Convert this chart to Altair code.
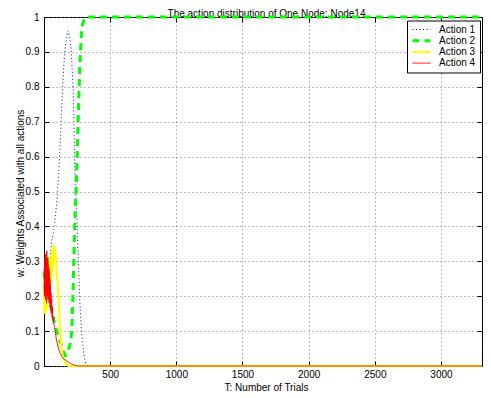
import altair as alt
import pandas as pd

FONT = "Liberation Sans"

chart_title = "The action distribution of One Node: Node14"
actions = ["Action 1", "Action 2", "Action 3", "Action 4"]
colors = ["#0000ff", "#00ff00", "#ffff00", "#ff0000"]
dashes = [[1, 2.5], [7, 5], [1, 0], [1, 0]]
widths = [1, 3, 2, 1]

x_ticks = [500, 1000, 1500, 2000, 2500, 3000]
y_ticks = [0, 0.1, 0.2, 0.3, 0.4, 0.5, 0.6, 0.7, 0.8, 0.9, 1]

# Action 1 (blue dotted)
a1_t = [1, 10, 18, 26, 34, 42, 50, 60, 70, 78, 86, 94, 102, 110, 118, 125, 130, 136,
        142, 148, 155, 163, 172, 180, 185, 195, 205, 213, 221, 226, 231, 238, 248,
        255, 262, 270, 280, 290, 300, 310, 320, 3310]
a1_w = [0.27, 0.23, 0.30, 0.25, 0.31, 0.28, 0.33, 0.36, 0.38, 0.40, 0.43, 0.46, 0.50,
        0.55, 0.60, 0.66, 0.71, 0.76, 0.80, 0.85, 0.89, 0.92, 0.94, 0.96, 0.96, 0.94,
        0.91, 0.85, 0.79, 0.70, 0.60, 0.50, 0.43, 0.35, 0.28, 0.19, 0.12, 0.07, 0.04,
        0.015, 0.0, 0.0]

# Action 2 (green dashed)
a2_t = [1, 8, 15, 22, 30, 40, 50, 60, 70, 80, 95, 110, 122, 135, 148, 160, 172, 184,
        196, 204, 210, 214, 220, 228, 236, 244, 252, 258, 264, 270, 276, 283, 292,
        305, 320, 3310]
a2_w = [0.27, 0.22, 0.30, 0.31, 0.24, 0.20, 0.17, 0.16, 0.14, 0.12, 0.10, 0.085, 0.07,
        0.055, 0.04, 0.03, 0.035, 0.045, 0.06, 0.08, 0.10, 0.15, 0.22, 0.34, 0.44,
        0.52, 0.62, 0.70, 0.78, 0.85, 0.90, 0.95, 0.98, 0.995, 1.0, 1.0]

# Action 3 (yellow solid)
a3_t = [1, 3, 5, 7, 10, 12, 15, 17, 20, 22, 25, 27, 30, 32, 35, 37, 40, 42, 45, 47,
        50, 52, 55, 57, 60, 62, 65, 67, 70, 72, 75, 78, 80, 83, 86, 89, 92, 95, 97,
        100, 103, 106, 109, 112, 114, 116, 118, 120, 122, 125, 128, 131, 134, 138,
        142, 148, 155, 162, 170, 178, 185, 3310]
a3_w = [0.22, 0.15, 0.24, 0.17, 0.25, 0.15, 0.26, 0.18, 0.25, 0.16, 0.27, 0.19, 0.28,
        0.20, 0.29, 0.21, 0.30, 0.22, 0.31, 0.23, 0.31, 0.24, 0.32, 0.25, 0.33, 0.26,
        0.34, 0.28, 0.34, 0.29, 0.345, 0.31, 0.345, 0.32, 0.335, 0.30, 0.31, 0.28,
        0.27, 0.25, 0.24, 0.22, 0.21, 0.19, 0.17, 0.15, 0.13, 0.115, 0.10, 0.085,
        0.07, 0.055, 0.045, 0.037, 0.03, 0.022, 0.015, 0.01, 0.006, 0.002, 0.0, 0.0]

# Action 4 (red solid)
a4_t = [1, 3, 5, 7, 9, 11, 13, 15, 17, 19, 21, 23, 25, 27, 29, 31, 33, 35, 37, 39,
        41, 43, 45, 47, 49, 51, 53, 55, 58, 61, 64, 67, 70, 73, 76, 80, 85, 92, 100,
        110, 122, 135, 150, 170, 190, 210, 240, 270, 3310]
a4_w = [0.28, 0.20, 0.30, 0.22, 0.31, 0.19, 0.32, 0.21, 0.30, 0.18, 0.33, 0.22, 0.31,
        0.20, 0.30, 0.19, 0.29, 0.21, 0.28, 0.18, 0.27, 0.19, 0.25, 0.17, 0.23, 0.16,
        0.21, 0.15, 0.19, 0.14, 0.17, 0.13, 0.14, 0.12, 0.12, 0.11, 0.10, 0.08, 0.065,
        0.05, 0.037, 0.027, 0.02, 0.015, 0.01, 0.005, 0.001, 0.0, 0.0]

rows = []
for name, ts, ws in zip(actions, [a1_t, a2_t, a3_t, a4_t], [a1_w, a2_w, a3_w, a4_w]):
    for t, w in zip(ts, ws):
        rows.append({"trial": t, "weight": w, "action": name})
df = pd.DataFrame(rows)

W, H = 438, 349

xs = alt.Scale(domain=[0, 3310], nice=False, zero=False)
ys = alt.Scale(domain=[0, 1], nice=False)

base = alt.Chart(df)

lines = base.mark_line().encode(
    x=alt.X("trial:Q", scale=xs,
            axis=alt.Axis(values=x_ticks, title="T: Number of Trials", grid=True,
                          format="d", ticks=False, tickSize=0, domain=False,
                          labelPadding=3, gridDash=[1, 3], gridColor="#777777",
                          gridWidth=1, titleX=222, titleY=21, titleBaseline="middle",
                          titleAlign="center")),
    y=alt.Y("weight:Q", scale=ys,
            axis=alt.Axis(values=y_ticks, title="w: Weights Associated with all actions",
                          grid=True, ticks=False, tickSize=0, domain=False,
                          labelPadding=5, format="~g",
                          gridDash=[1, 3], gridColor="#777777", gridWidth=1,
                          titleX=-24, titleY=176, titleBaseline="middle",
                          titleAlign="center", titleAngle=270)),
    color=alt.Color("action:N", scale=alt.Scale(domain=actions, range=colors),
                    legend=alt.Legend(title=None)),
    strokeDash=alt.StrokeDash("action:N", scale=alt.Scale(domain=actions, range=dashes),
                              legend=alt.Legend(title=None)),
    strokeWidth=alt.StrokeWidth("action:N",
                                scale=alt.Scale(type="ordinal", domain=actions, range=widths),
                                legend=alt.Legend(title=None)),
)

# top axis: inward ticks and the chart title
ticks_tr = base.mark_point(opacity=0).encode(
    x=alt.X("trial:Q", scale=xs,
            axis=alt.Axis(orient="top", values=x_ticks, labels=False, grid=False,
                          domain=False, ticks=True, tickSize=5, offset=-5,
                          minExtent=0, maxExtent=5, tickColor="black",
                          title=chart_title, titleX=222, titleY=-6,
                          titleBaseline="alphabetic", titleAlign="center")),
    y=alt.Y("weight:Q", scale=ys,
            axis=alt.Axis(orient="right", values=y_ticks, labels=False, grid=False,
                          domain=False, ticks=True, tickSize=5, offset=-5,
                          minExtent=0, maxExtent=5,
                          tickColor="black", title=None)),
)

ticks_bl = base.mark_point(opacity=0).encode(
    x=alt.X("trial:Q", scale=xs,
            axis=alt.Axis(orient="bottom", values=x_ticks, labels=False, grid=False,
                          domain=False, ticks=True, tickSize=5, offset=-5,
                          minExtent=0, maxExtent=5,
                          tickColor="black", title=None)),
    y=alt.Y("weight:Q", scale=ys,
            axis=alt.Axis(orient="left", values=y_ticks, labels=False, grid=False,
                          domain=False, ticks=True, tickSize=5, offset=-5,
                          minExtent=0, maxExtent=5,
                          tickColor="black", title=None)),
)

chart = alt.layer(lines, ticks_tr, ticks_bl).resolve_axis(
    x="independent", y="independent"
).properties(
    width=W,
    height=H,
    autosize=alt.AutoSizeParams(type="none"),
    padding={"left": 36, "top": 9, "right": 1, "bottom": 30},
).configure_view(
    stroke="black", strokeWidth=1
).configure_axis(
    labelFont=FONT, labelFontSize=10, labelColor="black",
    titleFont=FONT, titleFontSize=10, titleColor="black", titleFontWeight="normal",
).configure_legend(
    orient="none", legendX=363, legendY=3.5, strokeColor="black", fillColor="white",
    padding=4, symbolType="stroke", symbolSize=324, clipHeight=10, rowPadding=1.2,
    labelOffset=7,
    labelFont=FONT, labelFontSize=10, labelColor="black",
)

chart.save("out.html", embed_options={"renderer": "svg", "actions": False})
